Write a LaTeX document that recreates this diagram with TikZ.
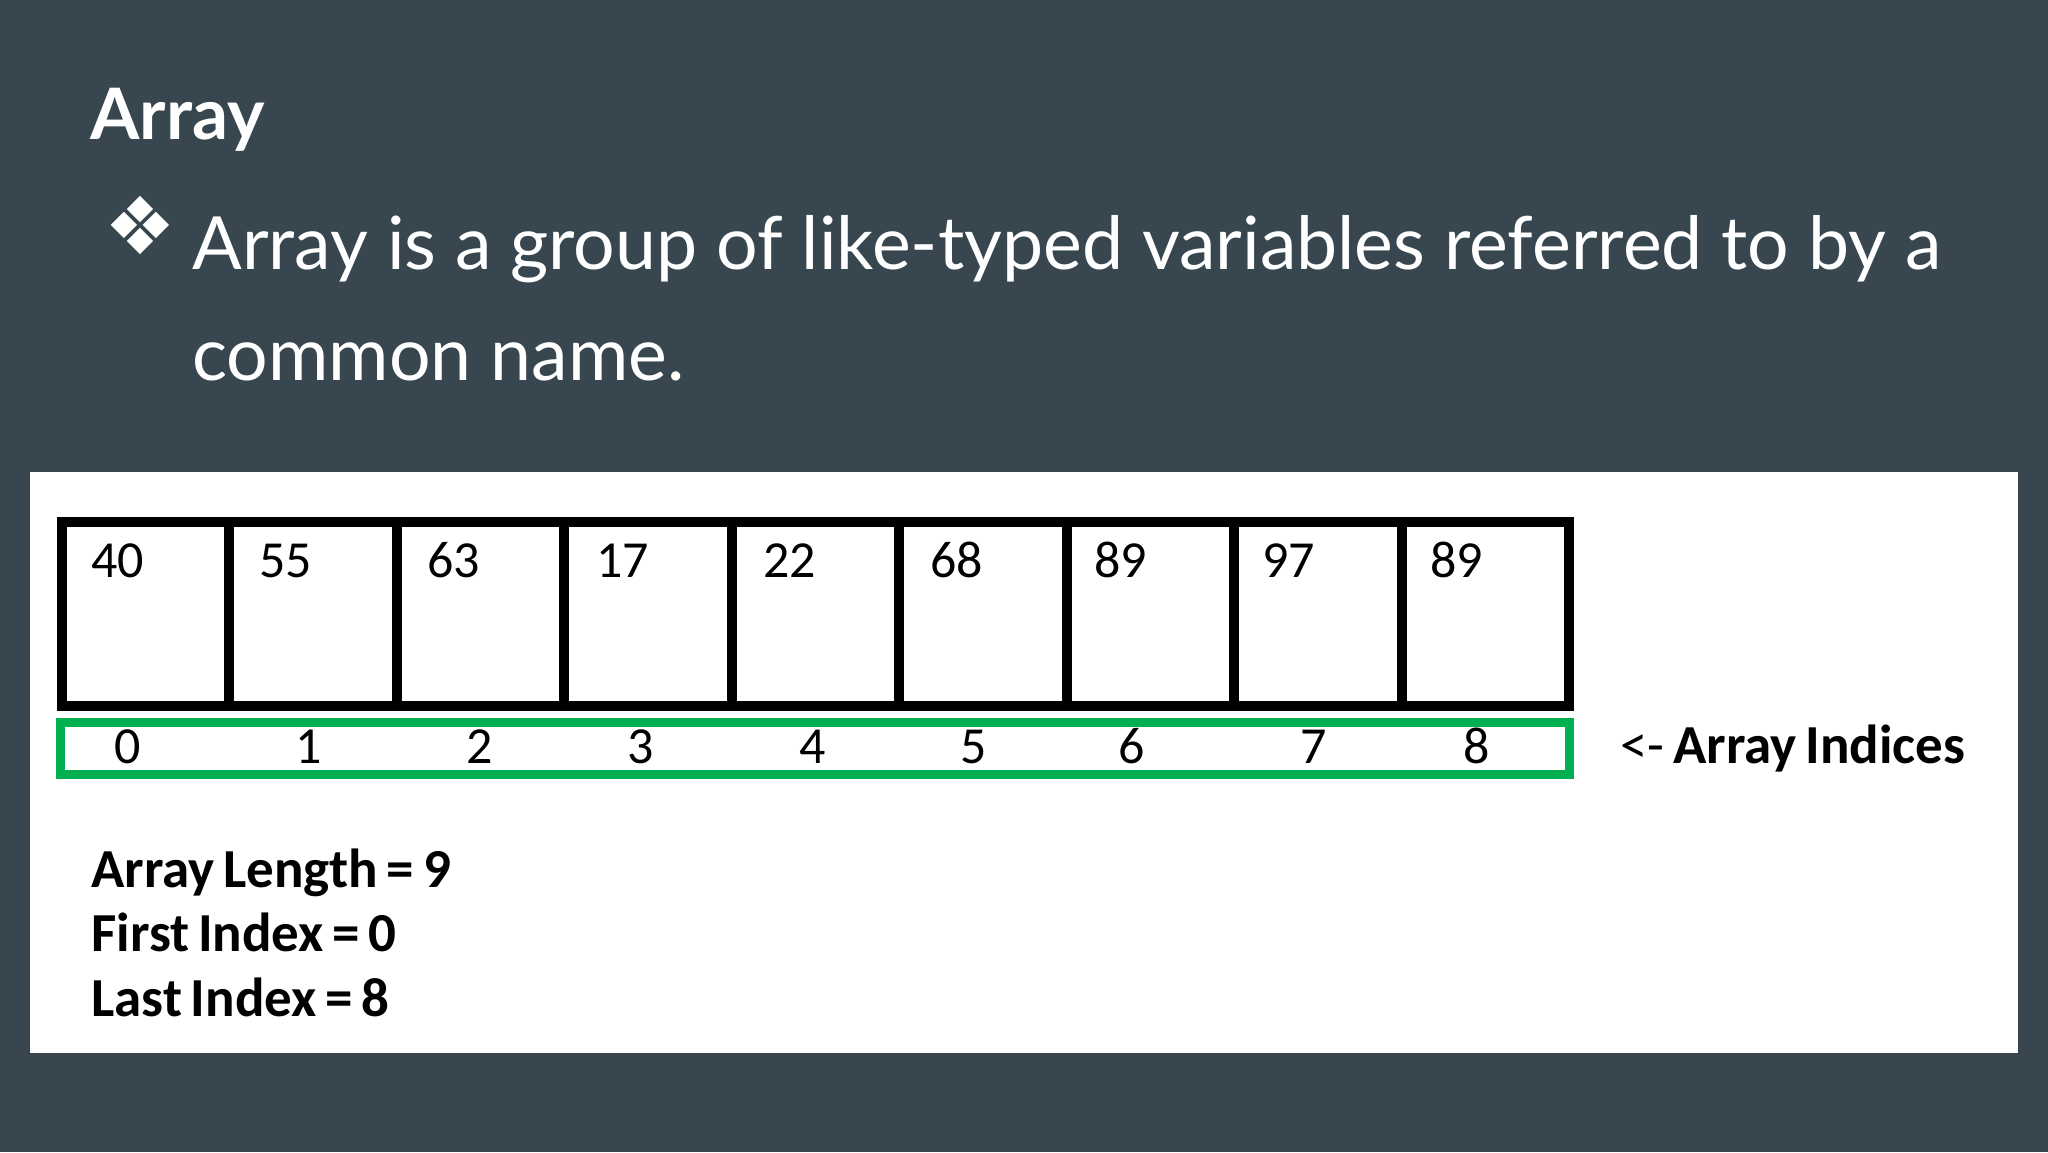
\documentclass[tikz,border=0pt]{standalone}
\usepackage{fontspec}
\setmainfont{Lato}
\newfontfamily\cellfont{Carlito}
\newfontfamily\infofont[WordSpace=0.7]{Carlito}
\newfontfamily\symfont{DejaVu Sans}
\definecolor{slide}{HTML}{38474F}
\definecolor{idxgreen}{HTML}{00B050}

\begin{document}
\begin{tikzpicture}[x=0.5pt, y=-0.5pt, every node/.style={inner sep=0pt},
    cellline/.style={line width=5pt},
    celltext/.style={anchor=base west, font=\cellfont\fontsize{26}{26}\selectfont},
    idxtext/.style={anchor=base, font=\cellfont\fontsize{26}{26}\selectfont},
    infotext/.style={anchor=base west, font=\infofont\bfseries\fontsize{27.5}{28}\selectfont}]
    \fill[slide] (0, 0) rectangle (2048, 1152);
    \useasboundingbox (0, 0) rectangle (2048, 1152);
    \fill[white] (30, 472) rectangle (2018, 1053);

    % slide heading and bullet text
    \node[anchor=base west, text=white, font=\bfseries\fontsize{35.5}{36}\selectfont] (title) at (90, 139) {Array};
    \node[anchor=base west, text=white, font=\symfont\fontsize{40}{40}\selectfont] (bullet) at (104, 254) {❖};
    \node[anchor=base west, text=white, font=\fontsize{36.7}{37}\selectfont] (line1) at (192, 269) {Array is a group of like-typed variables referred to by a};
    \node[anchor=base west, text=white, font=\fontsize{36.7}{37}\selectfont] (line2) at (192, 380) {common name.};

    % array cells
    \draw[cellline] (62, 521.5) rectangle (1569, 705.5);
    \draw[cellline] (229.4, 521.5) -- (229.4, 705.5);
    \draw[cellline] (396.9, 521.5) -- (396.9, 705.5);
    \draw[cellline] (564.3, 521.5) -- (564.3, 705.5);
    \draw[cellline] (731.8, 521.5) -- (731.8, 705.5);
    \draw[cellline] (899.2, 521.5) -- (899.2, 705.5);
    \draw[cellline] (1066.7, 521.5) -- (1066.7, 705.5);
    \draw[cellline] (1234.1, 521.5) -- (1234.1, 705.5);
    \draw[cellline] (1401.6, 521.5) -- (1401.6, 705.5);

    \node[celltext] (v0) at (91, 577) {40};
    \node[celltext] (v1) at (259, 577) {55};
    \node[celltext] (v2) at (427, 577) {63};
    \node[celltext] (v3) at (596, 577) {17};
    \node[celltext] (v4) at (763, 577) {22};
    \node[celltext] (v5) at (930, 577) {68};
    \node[celltext] (v6) at (1094, 577) {89};
    \node[celltext] (v7) at (1262, 577) {97};
    \node[celltext] (v8) at (1430, 577) {89};

    % indices
    \draw[idxgreen, line width=4.5pt] (60, 722) rectangle (1569, 774.5);
    \node[idxtext] (i0) at (128, 763) {0};
    \node[idxtext] (i1) at (309, 763) {1};
    \node[idxtext] (i2) at (480, 763) {2};
    \node[idxtext] (i3) at (641, 763) {3};
    \node[idxtext] (i4) at (813, 763) {4};
    \node[idxtext] (i5) at (974, 763) {5};
    \node[idxtext] (i6) at (1132, 763) {6};
    \node[idxtext] (i7) at (1314, 763) {7};
    \node[idxtext] (i8) at (1477, 763) {8};
    \node[anchor=base west, font=\infofont\fontsize{27.5}{28}\selectfont] (indices) at (1620, 763) {<- \textbf{Array Indices}};

    \node[infotext] (length) at (91, 887) {Array Length = 9};
    \node[infotext] (first) at (91, 951) {First Index = 0};
    \node[infotext] (last) at (91, 1016) {Last Index = 8};
\end{tikzpicture}
\end{document}
